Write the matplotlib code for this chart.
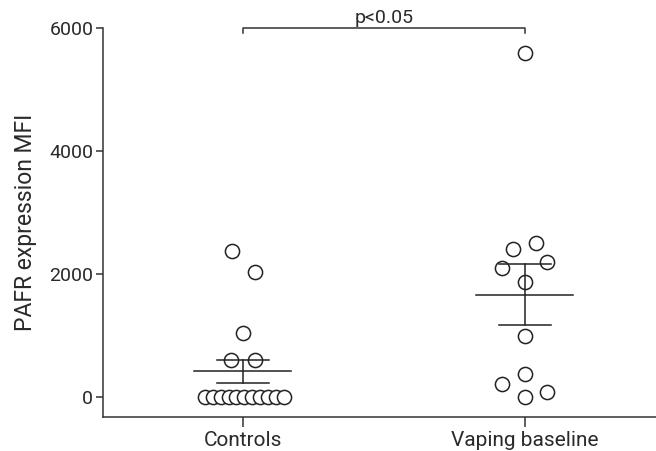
import numpy as np
import matplotlib
matplotlib.use("Agg")
import matplotlib.pyplot as plt

plt.rcParams['font.family'] = ['Roboto', 'DejaVu Sans']

categories = ["Controls", "Vaping baseline"]
controls = [2380, 2030, 1040, 600, 600, 0, 0, 0, 0, 0, 0, 0, 0, 0, 0, 0]
vaping = [5600, 2410, 2500, 2100, 2190, 1870, 990, 375, 210, 80, 0]
yticks = [0, 2000, 4000, 6000]
ylabel = "PAFR expression MFI"
sig_text = "p<0.05"

# swarm offsets (pixels) - layout only
PX = 282.0
ctrl_off_px = [-11, 12, 0, -12, 12] + list(np.linspace(-38, 41, 11))
vap_off_px = [0, -12, 11, -23, 22, 0, 0, 0, -23, 22, 0]

fig = plt.figure(figsize=(6.56, 4.51), dpi=100)
ax = fig.add_axes([103/656, 1-417/451, (656-103)/656, (417-28)/451])

col = '#222222'
for i, (vals, offs) in enumerate([(controls, ctrl_off_px), (vaping, vap_off_px)]):
    xs = i + np.array(offs) / PX
    ax.plot(xs, vals, 'o', ms=10.2, mfc='white', mec=col, mew=1.1, ls='none',
            clip_on=False, zorder=3)
    v = np.array(vals, dtype=float)
    m = v.mean()
    sem = v.std(ddof=1) / np.sqrt(len(v))
    ax.plot([i - 0.172, i + 0.172], [m, m], color=col, lw=1.1, zorder=4)
    ax.plot([i - 0.093, i + 0.093], [m + sem, m + sem], color=col, lw=1.1, zorder=4)
    ax.plot([i - 0.093, i + 0.093], [m - sem, m - sem], color=col, lw=1.1, zorder=4)
    ax.plot([i, i], [m - sem, m + sem], color=col, lw=1.1, zorder=4)

ax.set_xlim(-0.496, 1.465)
ax.set_ylim(-325, 6000)
ax.set_xticks([0, 1])
ax.set_xticklabels(categories)
ax.set_yticks(yticks)
ax.set_yticklabels([str(t) for t in yticks])
ax.set_ylabel(ylabel, fontsize=16.5, color='#2a2a2a', labelpad=9)

for s in ['top', 'right']:
    ax.spines[s].set_visible(False)
for s in ['left', 'bottom']:
    ax.spines[s].set_color('#333333')
    ax.spines[s].set_linewidth(1.1)
ax.spines['left'].set_bounds(-325, 6000)
ax.tick_params(axis='y', length=5, width=1.1, color='#333333', labelsize=14, labelcolor='#2a2a2a', pad=2)
ax.tick_params(axis='x', length=7, width=1.1, color='#333333', labelsize=15, labelcolor='#2a2a2a', pad=3)

# significance bracket
ax.plot([0, 0, 1, 1], [5920, 6000, 6000, 5920], color='#333333', lw=1.1, clip_on=False)
ax.text(0.5, 6010, sig_text, ha='center', va='bottom', fontsize=14, color='#2a2a2a')

fig.savefig("out.png", dpi=100)
